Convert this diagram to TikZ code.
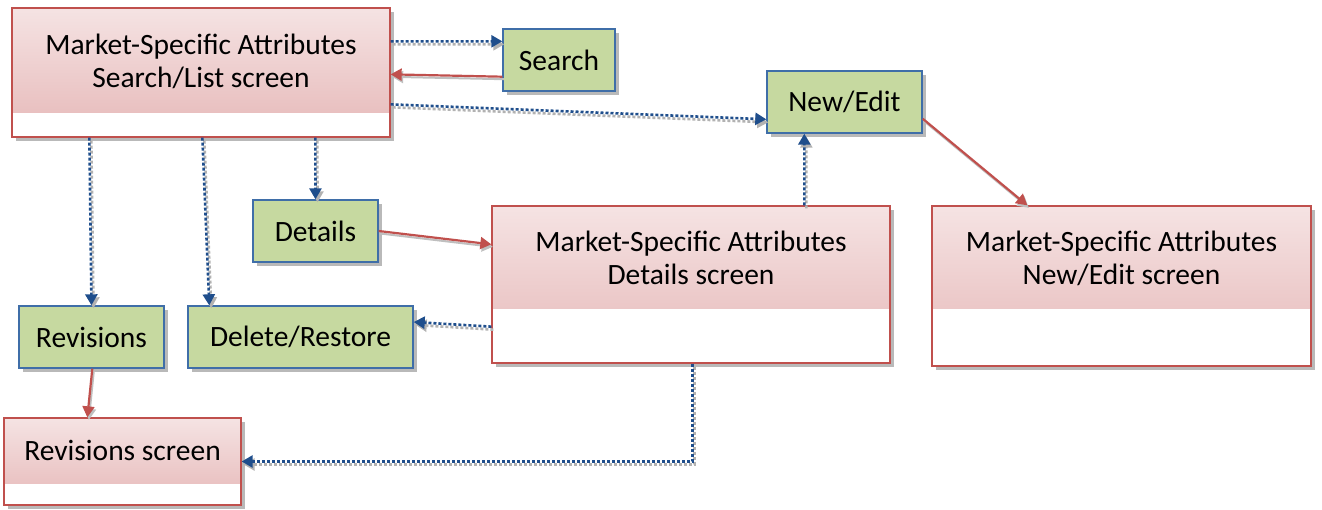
\documentclass[tikz,border=0pt]{standalone}
\usepackage{fontspec}
\setmainfont{Carlito}
\usetikzlibrary{arrows.meta,shadows}
\definecolor{pinkT}{HTML}{F5E3E3}
\definecolor{pinkB}{HTML}{E6B8B8}
\definecolor{redB}{HTML}{C0504D}
\definecolor{greenF}{HTML}{C6D9A0}
\definecolor{blueB}{HTML}{3F6EA8}
\definecolor{blueD}{HTML}{1F4E8C}
\begin{document}
\begin{tikzpicture}[x=1pt,y=-1pt,
  every node/.style={font=\fontsize{29.5}{33}\selectfont},
  screen/.style={draw=redB, line width=1.3pt, fill=white, inner sep=0pt,
    drop shadow={shadow xshift=4pt,shadow yshift=-4pt,fill=black!50,opacity=.55},
    path picture={\shade[top color=pinkT,bottom color=pinkB]
      (path picture bounding box.north west) rectangle ([yshift=#1]path picture bounding box.south east);}},
  btn/.style={draw=blueB, line width=1.4pt, fill=greenF, inner sep=0pt,
    drop shadow={shadow xshift=4pt,shadow yshift=-4pt,fill=black!50,opacity=.55}},
  lbl/.style={align=center, inner sep=0pt},
  dotarrow/.style={draw=blueD, line width=2.6pt, dash pattern=on 3pt off 2pt,
    -{Triangle[length=11pt,width=12pt]},
    preaction={draw=black!30, line width=2.6pt, dash pattern=on 3pt off 2pt,
      transform canvas={xshift=2pt,yshift=-3pt}}},
  redarrow/.style={draw=redB, line width=2.2pt,
    -{Triangle[length=11pt,width=12pt]},
    preaction={draw=black!25, line width=2pt, transform canvas={xshift=1.5pt,yshift=-2.5pt}}}
]
\useasboundingbox (0,0) rectangle (1322,509);

% screens
\node[screen=25pt, minimum width=378pt, minimum height=129pt] (sl) at (201,72.5) {};
\node[lbl] (slt) at (201,61) {Market-Specific Attributes\\Search/List screen};

\node[screen=55pt, minimum width=398pt, minimum height=157pt] (ds) at (691,284.5) {};
\node[lbl] (dst) at (691,258) {Market-Specific Attributes\\Details screen};

\node[screen=58pt, minimum width=379pt, minimum height=160pt] (nes) at (1121.5,286) {};
\node[lbl] (nest) at (1121.5,258) {Market-Specific Attributes\\New/Edit screen};

\node[screen=22pt, minimum width=237pt, minimum height=87pt] (rs) at (122.5,461.5) {};
\node[lbl] (rst) at (122.5,450) {Revisions screen};

% buttons
\node[btn, minimum width=112pt, minimum height=62pt] (search) at (559,60) {Search};
\node[btn, minimum width=155pt, minimum height=62pt] (ne) at (844.5,102) {New/Edit};
\node[btn, minimum width=125pt, minimum height=62pt] (det) at (315.5,231) {Details};
\node[btn, minimum width=145pt, minimum height=62pt] (rev) at (91.5,337) {Revisions};
\node[btn, minimum width=225pt, minimum height=62pt] (dr) at (300.5,337) {Delete/Restore};

% connectors
\draw[dotarrow] ([yshift=-34pt]sl.north east) -- ([yshift=-13pt]search.north west);
\draw[redarrow] ([yshift=15pt]search.south west) -- ([yshift=-67pt]sl.north east);
\draw[dotarrow] ([yshift=-97pt]sl.north east) -- ([yshift=-49pt]ne.north west);
\draw[dotarrow] ([xshift=78pt]sl.south west) -- (rev.north);
\draw[dotarrow] ([xshift=191pt]sl.south west) -- ([xshift=22pt]dr.north west);
\draw[dotarrow] ([xshift=304pt]sl.south west) -- (det.north);
\draw[redarrow] (det.east) -- ([yshift=-39pt]ds.north west);
\draw[dotarrow] ([yshift=37pt]ds.south west) -- ([yshift=15pt]dr.east);
\draw[dotarrow] ([xshift=313pt]ds.north west) -- ([xshift=38pt]ne.south west);
\draw[redarrow] ([yshift=15pt]ne.south east) -- ([xshift=96pt]nes.north west);
\draw[redarrow] ([xshift=74pt]rev.south west) -- ([xshift=84pt]rs.north west);
\draw[dotarrow] ([xshift=201pt]ds.south west) |- (rs.east);
\end{tikzpicture}
\end{document}
